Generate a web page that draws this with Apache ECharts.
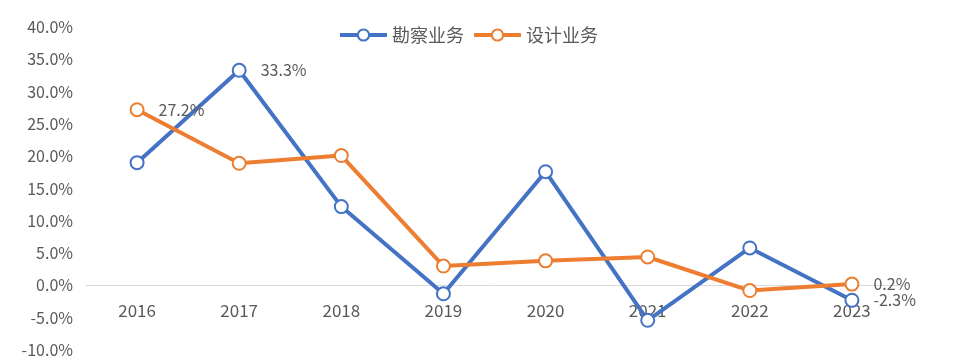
<!DOCTYPE html>
<html><head><meta charset="utf-8">
<script src="https://cdn.jsdelivr.net/npm/echarts@6/dist/echarts.min.js"></script>
<style>html,body{margin:0;padding:0;background:#fff}#c{width:954px;height:360px}</style>
</head><body><div id="c"></div>
<script>
const categories = ['2016','2017','2018','2019','2020','2021','2022','2023'];
const seriesNames = ['勘察业务','设计业务'];
const kanchaValues = [19.0, 33.3, 12.2, -1.3, 17.6, -5.4, 5.8, -2.3];
const shejiValues = [27.2, 18.9, 20.1, 3.0, 3.8, 4.4, -0.8, 0.2];
const kanchaLabeled = [1, 7];
const shejiLabeled = [0, 7];

const font = '"Noto Sans CJK SC", "Noto Sans", sans-serif';
function mk(vals, labeled, offsets) {
  return vals.map((v, i) => labeled.includes(i)
    ? {value: v, label: {show: true, position: 'right', distance: 14, offset: offsets[i] || [0,0],
        formatter: p => p.value.toFixed(1) + '%', color: '#595959', fontSize: 16, fontFamily: font}}
    : v);
}
const chart = echarts.init(document.getElementById('c'));
chart.setOption({
  animation: false,
  backgroundColor: '#fff',
  legend: {
    top: 21, left: 333, itemWidth: 47, itemHeight: 14, itemGap: 8,
    lineStyle: {width: 4},
    textStyle: {color: '#595959', fontSize: 18, fontFamily: font}
  },
  grid: [
    {left: 86, right: 51, top: 27, bottom: 10, containLabel: false, outerBoundsMode: 'none'},
    {left: 86, right: 51, top: 27, height: 258, containLabel: false, outerBoundsMode: 'none'}
  ],
  xAxis: [{
    type: 'category', data: categories, boundaryGap: true, gridIndex: 0,
    axisLine: {onZero: true, lineStyle: {color: '#D9D9D9', width: 1}},
    axisTick: {show: false},
    axisLabel: {show: false}
  }, {
    type: 'category', data: categories, boundaryGap: true, gridIndex: 1,
    axisLine: {show: false}, axisTick: {show: false},
    axisLabel: {color: '#595959', fontSize: 17, fontFamily: font, margin: 17}
  }],
  yAxis: [{
    type: 'value', min: -10, max: 40, interval: 5, gridIndex: 0,
    axisLine: {show: false}, axisTick: {show: false},
    splitLine: {show: false},
    axisLabel: {color: '#595959', fontSize: 16, fontFamily: font, margin: 13,
      formatter: v => v.toFixed(1) + '%'}
  }, {
    type: 'value', gridIndex: 1, show: false, min: 0, max: 1
  }],
  series: [
    {name: seriesNames[0], type: 'line', data: mk(kanchaValues, kanchaLabeled, {}),
     color: '#4472C4', lineStyle: {width: 4, color: '#4472C4'},
     symbol: 'circle', symbolSize: 13, itemStyle: {color: '#fff', borderColor: '#4472C4', borderWidth: 2}},
    {name: seriesNames[1], type: 'line', data: mk(shejiValues, shejiLabeled, {}),
     color: '#ED7D31', lineStyle: {width: 4, color: '#ED7D31'},
     symbol: 'circle', symbolSize: 13, itemStyle: {color: '#fff', borderColor: '#ED7D31', borderWidth: 2}}
  ]
});
</script></body></html>
